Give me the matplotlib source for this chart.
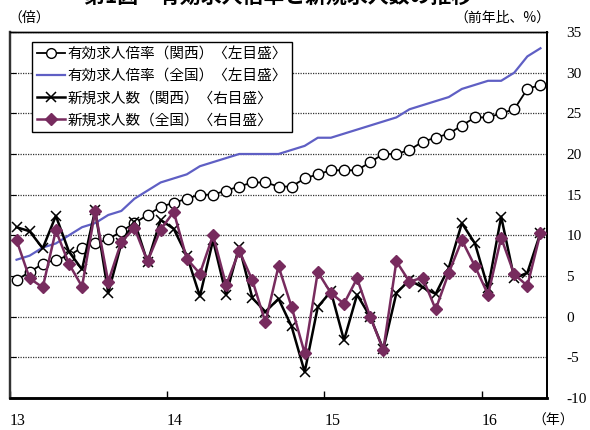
import numpy as np
import matplotlib
matplotlib.use('Agg')
import matplotlib.pyplot as plt
from matplotlib.lines import Line2D
import matplotlib.transforms as mtrans

plt.rcParams['font.family'] = ['Noto Sans CJK JP', 'DejaVu Sans']
plt.rcParams['axes.unicode_minus'] = False

years = ['13', '14', '15', '16']

# 有効求人倍率 (倍, left scale)
kansai_ratio = [0.79, 0.81, 0.83, 0.84, 0.85, 0.87, 0.88, 0.89, 0.91, 0.93, 0.95, 0.97,
                0.98, 0.99, 1.00, 1.00, 1.01, 1.02, 1.03, 1.03, 1.02, 1.02, 1.04, 1.05,
                1.06, 1.06, 1.06, 1.08, 1.10, 1.10, 1.11, 1.13, 1.14, 1.15, 1.17, 1.19,
                1.19, 1.20, 1.21, 1.26, 1.27]
national_ratio = [0.84, 0.85, 0.87, 0.88, 0.90, 0.92, 0.93, 0.95, 0.96, 0.99, 1.01, 1.03,
                  1.04, 1.05, 1.07, 1.08, 1.09, 1.10, 1.10, 1.10, 1.10, 1.11, 1.12, 1.14,
                  1.14, 1.15, 1.16, 1.17, 1.18, 1.19, 1.21, 1.22, 1.23, 1.24, 1.26, 1.27,
                  1.28, 1.28, 1.30, 1.34, 1.36]
# 新規求人数 (前年比 %, right scale)
kansai_new = [11.0, 10.5, 8.4, 12.4, 8.0, 5.8, 13.1, 2.9, 9.0, 11.7, 6.7, 11.9,
              10.8, 7.5, 2.5, 9.4, 2.7, 8.6, 2.3, 0.6, 2.2, -1.2, -6.8, 1.2,
              3.1, -2.9, 2.7, 0.0, -4.0, 2.9, 4.5, 3.6, 2.8, 6.0, 11.5, 9.0,
              3.5, 12.3, 4.7, 5.4, 10.3]
national_new = [9.4, 4.7, 3.6, 10.6, 6.5, 3.7, 13.0, 4.3, 9.2, 10.9, 6.8, 10.7,
                12.9, 7.1, 5.3, 10.0, 3.9, 8.1, 4.5, -0.7, 6.2, 1.2, -4.5, 5.5,
                2.9, 1.6, 4.7, 0.0, -4.1, 6.8, 4.3, 4.8, 0.9, 5.4, 9.4, 6.2,
                2.7, 9.7, 5.2, 3.8, 10.3]

labels = ['有効求人倍率（関西）〈左目盛〉', '有効求人倍率（全国）〈左目盛〉',
          '新規求人数（関西）〈右目盛〉', '新規求人数（全国）〈右目盛〉']

BLUE = '#5F5FC4'
PURPLE = '#772B5E'

n = len(kansai_ratio)
x = np.arange(n) + 0.5

fig = plt.figure(figsize=(5.9, 4.3), dpi=100)
ax = fig.add_axes([10/590, 1-398/430, 537/590, 366/430])
ax2 = ax.twinx()

ax.set_xlim(0, n)
ax.set_ylim(0.5, 1.4)
ax2.set_ylim(-10, 35)

ax.set_yticks(np.arange(0.5, 1.401, 0.1))
ax.tick_params(axis='y', direction='in', length=4, labelleft=False, width=0.8)
ax.yaxis.grid(True, linestyle=(0, (1, 1)), color='#333333', linewidth=0.9)
ax.set_axisbelow(True)

ax.set_xticks([0, 12, 24, 36])
ax.tick_params(axis='x', direction='in', length=5, labelbottom=False, width=1)

ax2.set_yticks(range(-10, 36, 5))
ax2.tick_params(axis='y', length=0, pad=14, labelsize=11)
for lab in ax2.get_yticklabels():
    lab.set_family('Liberation Serif')

ax.plot(x, national_ratio, color=BLUE, lw=1.6, zorder=2)
ax.plot(x, kansai_ratio, color='black', lw=1.3, marker='o', ms=7.5,
        mfc='white', mec='black', mew=1.0, zorder=3)
ax2.plot(x, kansai_new, color='black', lw=1.8, marker='x', ms=7.5, mew=1.1, zorder=3)
ax2.plot(x, national_new, color=PURPLE, lw=1.8, marker='D', ms=6, mec=PURPLE,
         mfc=PURPLE, zorder=4)

for a in (ax, ax2):
    a.spines['left'].set_linewidth(1.6)
    a.spines['left'].set_color('#333333')
    a.spines['right'].set_linewidth(1.3)
    a.spines['bottom'].set_linewidth(1.8)
    a.spines['top'].set_linewidth(1.0)

trans = mtrans.blended_transform_factory(ax.transData, ax.transAxes)
for i, yr in enumerate(years):
    ax.text(12*i + 0.6, -0.063, yr, transform=trans, ha='center', va='center',
            fontsize=11.5, family='Liberation Serif')

fig.text(553/590, 1-421/430, '（年）', ha='center', va='center', fontsize=10)
fig.text(8/590, 1-18/430, '（倍）', ha='left', va='center', fontsize=10)
fig.text(550/590, 1-18/430, '（前年比、%）', ha='right', va='center', fontsize=10)
fig.text(278/590, 1-7/430, '第1図　有効求人倍率と新規求人数の推移', ha='center',
         va='bottom', fontsize=15, weight='bold')

handles = [
    Line2D([], [], color='black', lw=1.3, marker='o', ms=7, mfc='white', mec='black'),
    Line2D([], [], color=BLUE, lw=1.6),
    Line2D([], [], color='black', lw=1.8, marker='x', ms=7, mew=1.1),
    Line2D([], [], color=PURPLE, lw=1.8, marker='D', ms=6, mfc=PURPLE, mec=PURPLE),
]
leg = ax2.legend(handles, labels, loc='upper left', bbox_to_anchor=(22/537, 1-10/366),
                 borderaxespad=0, frameon=True, fancybox=False, framealpha=1,
                 edgecolor='black', fontsize=10.5, handlelength=1.9, handletextpad=0.2,
                 labelspacing=0.55, borderpad=0.35)
leg.get_frame().set_linewidth(1.0)
leg.set_zorder(10)

fig.savefig('out.png', dpi=100)
